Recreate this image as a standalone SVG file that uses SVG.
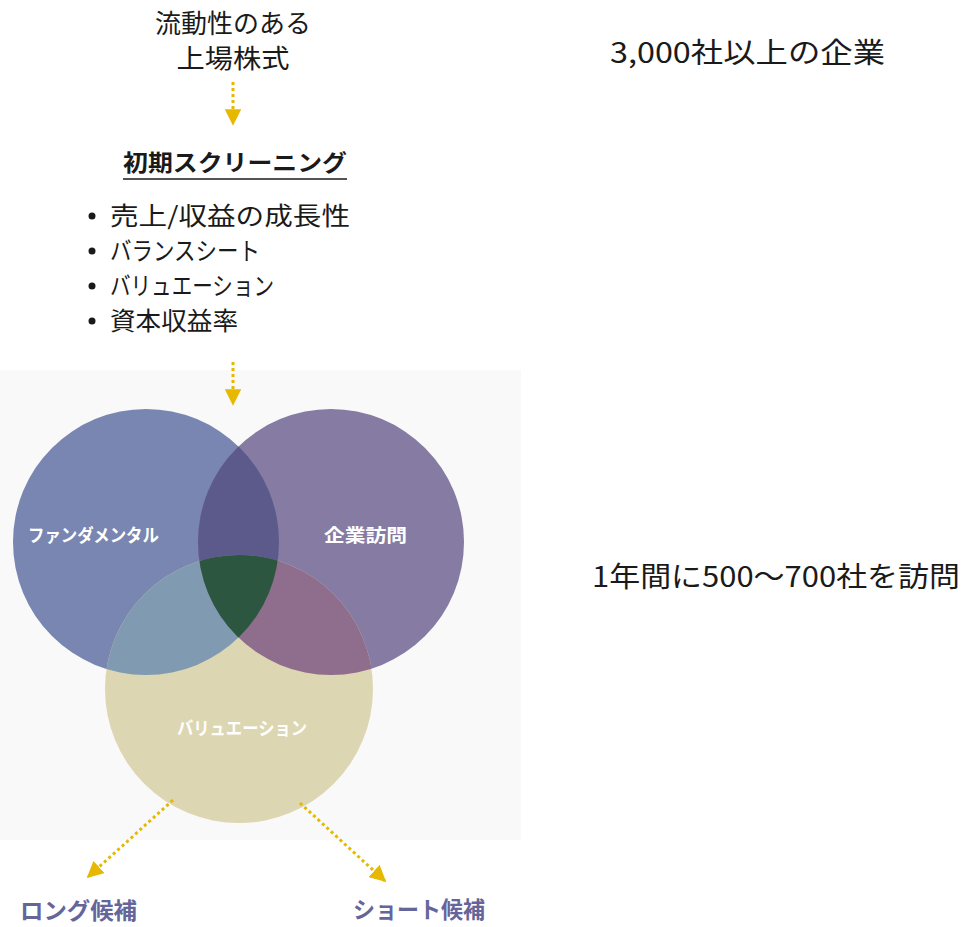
<svg xmlns="http://www.w3.org/2000/svg" width="970" height="927" viewBox="0 0 970 927">
<style>
.t{font-family:"Noto Sans CJK JP","Noto Sans",sans-serif;fill:#1a1a1a}
.v{font-family:"Noto Sans CJK JP","Noto Sans",sans-serif;fill:#ffffff;font-weight:bold;font-size:18px}
.lab{font-family:"Noto Sans CJK JP","Noto Sans",sans-serif;fill:#65659a;font-weight:bold;font-size:23px}
.arr{stroke:#e6b800;stroke-width:3;stroke-dasharray:3 3;fill:none}
</style>
<defs>
<marker id="ah" viewBox="0 0 10 10" refX="9" refY="5" markerWidth="5.5" markerHeight="5.5" orient="auto" markerUnits="strokeWidth">
<path d="M0,0 L10,5 L0,10 Z" fill="#e6b800"/>
</marker>
<clipPath id="cL"><circle cx="146" cy="542" r="133"/></clipPath>
<clipPath id="cR"><circle cx="331" cy="542" r="133"/></clipPath>
<clipPath id="cB"><circle cx="239" cy="689" r="134"/></clipPath>
</defs>
<rect width="970" height="927" fill="#ffffff"/>
<rect x="0" y="370" width="521" height="470" fill="#f9f9f9"/>

<g id="source">
<text class="t" x="233" y="33" font-size="26" text-anchor="middle">流動性のある</text>
<text class="t" x="233" y="68" font-size="26" text-anchor="middle" textLength="113" lengthAdjust="spacingAndGlyphs">上場株式</text>
</g>

<g id="screening">
<text class="t" x="235" y="171" font-size="23" font-weight="bold" text-anchor="middle" textLength="224" lengthAdjust="spacingAndGlyphs">初期スクリーニング</text>
<line x1="123" y1="179" x2="347" y2="179" stroke="#1a1a1a" stroke-width="1.5"/>
<g class="t" font-size="25">
<circle cx="92" cy="216" r="3.5" fill="#1a1a1a"/>
<text x="110" y="225" textLength="240" lengthAdjust="spacingAndGlyphs">売上/収益の成長性</text>
<circle cx="92" cy="251" r="3.5" fill="#1a1a1a"/>
<text x="110" y="260" textLength="150" lengthAdjust="spacingAndGlyphs">バランスシート</text>
<circle cx="92" cy="286" r="3.5" fill="#1a1a1a"/>
<text x="110" y="295" textLength="164" lengthAdjust="spacingAndGlyphs">バリュエーション</text>
<circle cx="92" cy="321" r="3.5" fill="#1a1a1a"/>
<text x="110" y="330" textLength="128" lengthAdjust="spacingAndGlyphs">資本収益率</text>
</g>
</g>

<g id="venn">
<circle cx="146" cy="542" r="133" fill="#7986b1"/>
<circle cx="331" cy="542" r="133" fill="#857ba3"/>
<circle cx="239" cy="689" r="134" fill="#ddd6b2"/>
<g clip-path="url(#cL)"><circle cx="331" cy="542" r="133" fill="#5c5a8a"/><circle cx="239" cy="689" r="134" fill="#7f9ab1"/></g>
<g clip-path="url(#cR)"><circle cx="239" cy="689" r="134" fill="#8f6d8c"/></g>
<g clip-path="url(#cL)"><g clip-path="url(#cR)"><circle cx="239" cy="689" r="134" fill="#2d5640"/></g></g>
</g>
<g id="fundamental"><text class="v" x="28" y="542" textLength="131" lengthAdjust="spacingAndGlyphs">ファンダメンタル</text></g>
<g id="visit"><text class="v" x="324" y="542" textLength="83" lengthAdjust="spacingAndGlyphs">企業訪問</text></g>
<g id="valuation"><text class="v" x="177" y="735" textLength="130" lengthAdjust="spacingAndGlyphs">バリュエーション</text></g>

<g id="long"><text class="lab" x="20" y="919" textLength="117" lengthAdjust="spacingAndGlyphs">ロング候補</text></g>
<g id="short"><text class="lab" x="353" y="918" textLength="132" lengthAdjust="spacingAndGlyphs">ショート候補</text></g>

<g id="note1"><text class="t" x="610" y="63" font-size="28" textLength="275" lengthAdjust="spacingAndGlyphs">3,000社以上の企業</text></g>
<g id="note2"><text class="t" x="592" y="587" font-size="28" textLength="368" lengthAdjust="spacingAndGlyphs">1年間に500～700社を訪問</text></g>

<g id="connectors">
<line class="arr" x1="233" y1="82" x2="233" y2="124" marker-end="url(#ah)"/>
<line class="arr" x1="233" y1="362" x2="233" y2="404" marker-end="url(#ah)"/>
<line class="arr" x1="173" y1="800" x2="88" y2="877" marker-end="url(#ah)"/>
<line class="arr" x1="300" y1="803" x2="385" y2="881" marker-end="url(#ah)"/>
</g>
</svg>
